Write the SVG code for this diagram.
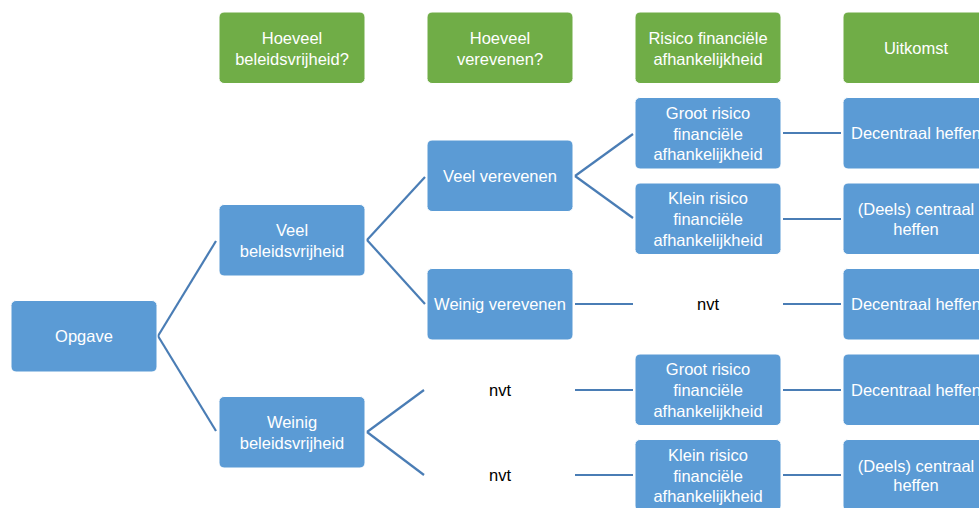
<svg xmlns="http://www.w3.org/2000/svg" width="979" height="508" viewBox="0 0 979 508">
<style>
.box{fill:#5B9BD5;stroke:#ffffff;stroke-width:1}
.hdr{fill:#70AD47;stroke:#ffffff;stroke-width:1}
.t{font-family:"Liberation Sans",Arial,sans-serif;font-size:16.5px;fill:#ffffff;text-anchor:middle}
.n{font-family:"Liberation Sans",Arial,sans-serif;font-size:16.5px;fill:#000000;text-anchor:middle}
.c line{stroke:#4A7DB5;stroke-width:2.2;fill:none}
</style>
<rect width="979" height="508" fill="#ffffff"/>
<g class="c" id="connectors">
<line x1="158" y1="336" x2="216" y2="241"/>
<line x1="158" y1="336" x2="216" y2="431"/>
<line x1="367" y1="240" x2="425" y2="177"/>
<line x1="367" y1="240" x2="425" y2="304"/>
<line x1="367" y1="432" x2="424" y2="390"/>
<line x1="367" y1="432" x2="424" y2="475"/>
<line x1="575" y1="176" x2="633" y2="134"/>
<line x1="575" y1="176" x2="633" y2="218"/>
<line x1="575" y1="304" x2="633" y2="304"/>
<line x1="575" y1="390" x2="633" y2="390"/>
<line x1="575" y1="475" x2="633" y2="475"/>
<line x1="783" y1="133" x2="841" y2="133"/>
<line x1="783" y1="219" x2="841" y2="219"/>
<line x1="783" y1="304" x2="841" y2="304"/>
<line x1="783" y1="390" x2="841" y2="390"/>
<line x1="783" y1="475" x2="841" y2="475"/>
</g>
<g id="h1"><rect class="hdr" x="219" y="12" width="146" height="71.5" rx="5"/><text class="t" x="292" y="44">Hoeveel</text><text class="t" x="292" y="65">beleidsvrijheid?</text></g>
<g id="h2"><rect class="hdr" x="427" y="12" width="146" height="71.5" rx="5"/><text class="t" x="500" y="44">Hoeveel</text><text class="t" x="500" y="65">verevenen?</text></g>
<g id="h3"><rect class="hdr" x="635" y="12" width="146" height="71.5" rx="5"/><text class="t" x="708" y="44">Risico financiële</text><text class="t" x="708" y="65">afhankelijkheid</text></g>
<g id="h4"><rect class="hdr" x="843" y="12" width="146" height="71.5" rx="5"/><text class="t" x="916" y="54">Uitkomst</text></g>
<g id="opgave"><rect class="box" x="11" y="300.5" width="146" height="71.5" rx="5"/><text class="t" x="84" y="342">Opgave</text></g>
<g id="veelbv"><rect class="box" x="219" y="204.5" width="146" height="71.5" rx="5"/><text class="t" x="292" y="235.5">Veel</text><text class="t" x="292" y="256.5">beleidsvrijheid</text></g>
<g id="weinigbv"><rect class="box" x="219" y="396.5" width="146" height="71.5" rx="5"/><text class="t" x="292" y="427.5">Weinig</text><text class="t" x="292" y="448.5">beleidsvrijheid</text></g>
<g id="veelver"><rect class="box" x="427" y="140" width="146" height="71.5" rx="5"/><text class="t" x="500" y="182">Veel verevenen</text></g>
<g id="weinigver"><rect class="box" x="427" y="268.5" width="146" height="71.5" rx="5"/><text class="t" x="500" y="310">Weinig verevenen</text></g>
<g id="nvt1"><text class="n" x="500" y="396">nvt</text></g>
<g id="nvt2"><text class="n" x="500" y="481">nvt</text></g>
<g id="groot1"><rect class="box" x="635" y="97.5" width="146" height="71.5" rx="5"/><text class="t" x="708" y="118.5">Groot risico</text><text class="t" x="708" y="139.5">financiële</text><text class="t" x="708" y="160">afhankelijkheid</text></g>
<g id="klein1"><rect class="box" x="635" y="183" width="146" height="71.5" rx="5"/><text class="t" x="708" y="204">Klein risico</text><text class="t" x="708" y="225">financiële</text><text class="t" x="708" y="245.5">afhankelijkheid</text></g>
<g id="nvt3"><text class="n" x="708" y="310">nvt</text></g>
<g id="groot2"><rect class="box" x="635" y="354" width="146" height="71.5" rx="5"/><text class="t" x="708" y="375">Groot risico</text><text class="t" x="708" y="396">financiële</text><text class="t" x="708" y="416.5">afhankelijkheid</text></g>
<g id="klein2"><rect class="box" x="635" y="439.5" width="146" height="71.5" rx="5"/><text class="t" x="708" y="460.5">Klein risico</text><text class="t" x="708" y="481.5">financiële</text><text class="t" x="708" y="502">afhankelijkheid</text></g>
<g id="u1"><rect class="box" x="843" y="97.5" width="146" height="71.5" rx="5"/><text class="t" x="916" y="139">Decentraal heffen</text></g>
<g id="u2"><rect class="box" x="843" y="183" width="146" height="71.5" rx="5"/><text class="t" x="916" y="215">(Deels) centraal</text><text class="t" x="916" y="234.5">heffen</text></g>
<g id="u3"><rect class="box" x="843" y="268.5" width="146" height="71.5" rx="5"/><text class="t" x="916" y="310">Decentraal heffen</text></g>
<g id="u4"><rect class="box" x="843" y="354" width="146" height="71.5" rx="5"/><text class="t" x="916" y="396">Decentraal heffen</text></g>
<g id="u5"><rect class="box" x="843" y="439.5" width="146" height="71.5" rx="5"/><text class="t" x="916" y="471.5">(Deels) centraal</text><text class="t" x="916" y="491">heffen</text></g>
</svg>
